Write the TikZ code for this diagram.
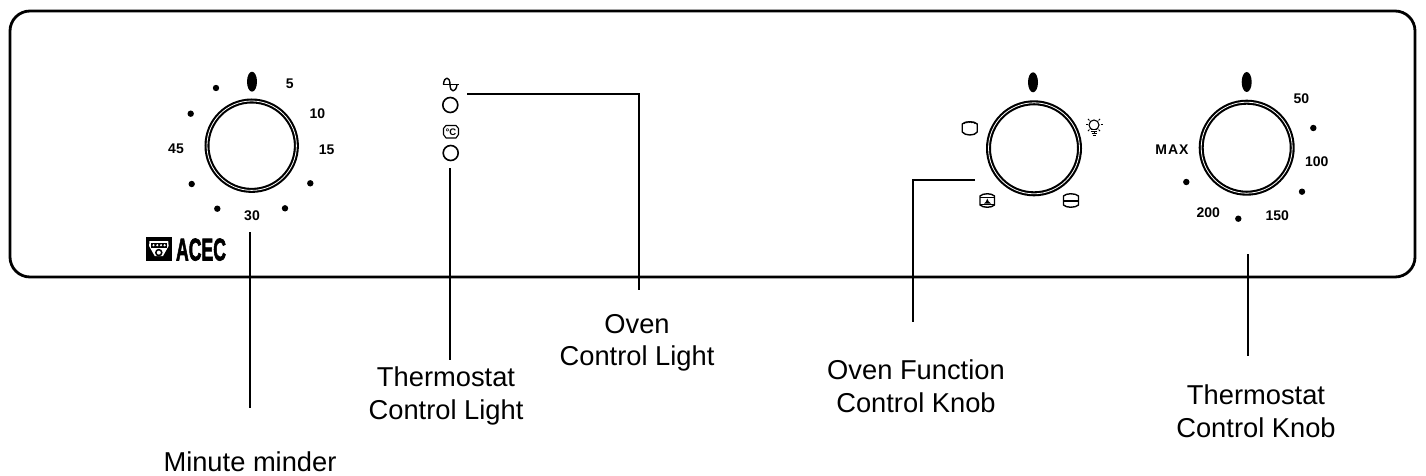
\documentclass[tikz,border=0pt]{standalone}
\usepackage{fontspec}
\setmainfont{Liberation Sans}
\newfontfamily\acecfont[FakeBold=2.5]{Liberation Sans Bold}
\usetikzlibrary{shapes.geometric}
\tikzset{
  knob/.style={circle,draw,line width=2.1pt,double,double distance=.8pt,minimum size=#1,inner sep=0pt,outer sep=0pt},
  mark oval/.style={ellipse,fill=black,minimum width=10pt,minimum height=20pt,inner sep=0pt},
  tick/.style={circle,fill=black,minimum size=6.4pt,inner sep=0pt},
  scale label/.style={font=\bfseries\fontsize{14}{16}\selectfont,inner sep=0pt},
  call label/.style={font=\fontsize{27.3}{32.5}\selectfont,align=center,inner sep=0pt},
  leader/.style={line width=2.8pt,line cap=butt},
  lamp/.style={circle,draw,line width=1.6pt,minimum size=15pt,inner sep=0pt},
  icon/.style={line width=1.4pt,line join=round}
}
\begin{document}
\begin{tikzpicture}[x=1pt,y=-1pt]
\useasboundingbox (0,0) rectangle (1426,476);
% panel
\draw[line width=2.8pt,rounded corners=20pt] (10,11) rectangle (1415,277);

% minute minder dial
\node[knob=89.4pt] (k1) at (251.7,145.7) {};
\node[mark oval] (m1) at (252,81.7) {};
\foreach \n/\p in {a/{216,88},b/{190.7,113.7},c/{191.7,184},d/{217.3,208.7},e/{285,208.3},f/{310.3,183.3}}
  \node[tick] (t1\n) at (\p) {};
\node[scale label] (l5) at (289.7,84) {5};
\node[scale label] (l10) at (317.3,113.3) {10};
\node[scale label] (l15) at (326.7,149.3) {15};
\node[scale label] (l45) at (176,148.3) {45};
\node[scale label] (l30) at (252,215.3) {30};

% logo
\fill (146,237.3) rectangle (171.7,261.3);
\fill[white] (149.5,241) -- (168.2,241) -- (168.6,246) -- (163,256) -- (154.7,256) -- (149.1,246) -- cycle;
\fill (151,242.5) -- (166.7,242.5) -- (166.7,248) -- (151,248) -- cycle;
\foreach \x in {153.5,157.3,161,164.6} \fill[white] (\x,245.2) circle (1.2pt);
\fill (158.8,252.6) circle (3.8pt);
\fill[white] (158.8,252.6) circle (2pt);
\node[inner sep=0pt] (acec) at (201,249.6)
  {\scalebox{.56}[1]{\acecfont\fontsize{31.5}{31.5}\selectfont ACEC}};

% lights
\node[lamp] (lamp1) at (450.3,105) {};
\node[lamp] (lamp2) at (450.7,153) {};
\draw[icon] (442.5,84.5) -- (458.5,84.5);
\draw[icon] (443.5,84.5) .. controls (444,76) and (450,76) .. (450,84.5) .. controls (450,93) and (456,93) .. (457,84.5);
\draw[line width=1.1pt,line join=round] (446,125.5) -- (456,125.5) -- (458.5,128.5) -- (458.5,134.5) -- (456,138) -- (446,138) -- (443.5,134.5) -- (443.5,128.5) -- cycle;
\node[inner sep=0pt,font=\bfseries\fontsize{9.5}{9.5}\selectfont] (degc) at (451,131.8) {°C};

% function dial
\node[knob=91pt] (k2) at (1034,148.3) {};
\node[mark oval] (m2) at (1033,82.3) {};
% grill icon
\draw[icon] (962.2,124) .. controls (965,121) and (974.5,121) .. (977.2,124) -- (977.2,132) .. controls (975,136) and (965,136) .. (962.2,132) -- cycle;
\draw[line width=1.6pt,dash pattern=on 1pt off .8pt] (964,123.4) .. controls (966,121.6) and (973.5,121.6) .. (975.5,123.4);
% lamp icon
\draw[line width=1.1pt] (1094,125) circle (5pt);
\fill[white] (1091,129) rectangle (1097,131);
\draw[line width=1.1pt] (1090.7,129.8) -- (1097.3,129.8) (1090.7,131.8) -- (1097.3,131.8) (1091.5,133.8) -- (1096.5,133.8) (1092.5,135.5) -- (1095.5,135.5);
\foreach \a in {0,45,90,135,180,225,315} \draw[line width=1pt] (1094,125) ++(-\a:6.5pt) -- ++(-\a:2pt);
% fan oven icon
\draw[icon] (980,196) .. controls (983,193) and (991.5,193) .. (994.5,196) -- (994.5,205) .. controls (991.5,208) and (983,208) .. (980,205) -- cycle;
\draw[line width=1pt] (980,197) -- (994.5,197) (980,204.3) -- (994.5,204.3);
\fill (987.3,198.5) -- (988.6,201.5) -- (991,203.5) -- (984,203.5) -- (986,201.5) -- cycle;
% top-bottom heat icon
\draw[icon] (1063.5,196) .. controls (1066,193) and (1075.5,193) .. (1078.5,196) -- (1078.5,205) .. controls (1075.5,208) and (1066,208) .. (1063.5,205) -- cycle;
\draw[line width=1.6pt] (1063.5,201.2) -- (1078.5,201.2);

% thermostat dial
\node[knob=91pt] (k3) at (1246.7,147.7) {};
\node[mark oval] (m3) at (1246.7,82) {};
\foreach \n/\p in {a/{1313.3,128},b/{1302,191.7},c/{1238.3,218.7},d/{1186.3,182}}
  \node[tick] (t3\n) at (\p) {};
\node[scale label] (l50) at (1301.3,98.3) {50};
\node[scale label] (l100) at (1316.7,161.7) {100};
\node[scale label] (l150) at (1277.3,215.3) {150};
\node[scale label] (l200) at (1208.3,212.7) {200};
\node[scale label] (lmax) at (1172,150) {M\hspace{1pt}A\hspace{1pt}X};

% call-out labels
\node[call label] (cMinute) at (250,462) {Minute minder};
\node[call label] (cTL) at (446,396) {Thermostat\\Control Light};
\node[call label] (cOL) at (637,343) {Oven\\Control Light};
\node[call label] (cFK) at (916,386) {Oven Function\\Control Knob};
\node[call label] (cTK) at (1256,411) {Thermostat\\Control Knob};

% leaders
\coordinate (aMinute) at (250,232); \coordinate (bMinute) at (250,408);
\coordinate (aTL) at (450,168); \coordinate (bTL) at (450,360);
\coordinate (aOL) at (467,94); \coordinate (bOL) at (639,290);
\coordinate (aFK) at (975,180); \coordinate (bFK) at (913,322);
\coordinate (aTK) at (1248,254); \coordinate (bTK) at (1248,356);
\draw[leader] (aMinute) -- (bMinute);
\draw[leader] (aTL) -- (bTL);
\draw[leader] (aOL) -| (bOL);
\draw[leader] (aFK) -| (bFK);
\draw[leader] (aTK) -- (bTK);
\end{tikzpicture}
\end{document}
